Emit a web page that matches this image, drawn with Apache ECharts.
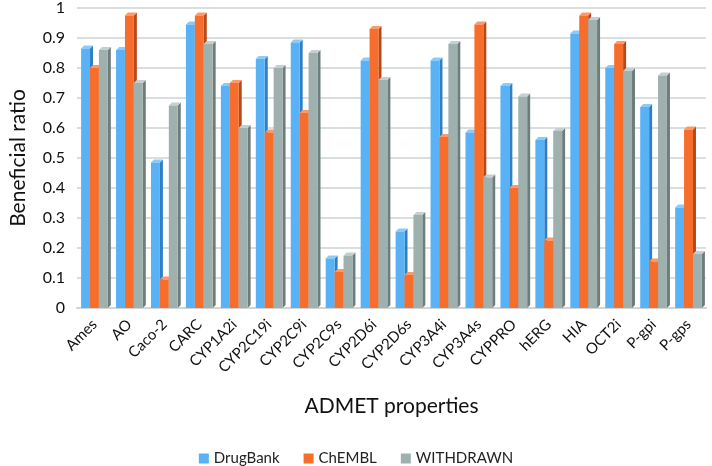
<!DOCTYPE html>
<html><head><meta charset="utf-8">
<script src="https://cdn.jsdelivr.net/npm/echarts@6/dist/echarts.min.js"></script>
<style>html,body{margin:0;padding:0;background:#fff}#c{width:712px;height:466px}</style>
</head><body><div id="c"></div>
<script>
const categories = ['Ames','AO','Caco-2','CARC','CYP1A2i','CYP2C19i','CYP2C9i','CYP2C9s','CYP2D6i','CYP2D6s','CYP3A4i','CYP3A4s','CYPPRO','hERG','HIA','OCT2i','P-gpi','P-gps'];
const drugBank  = [0.865,0.86,0.485,0.945,0.74,0.83,0.885,0.165,0.825,0.255,0.825,0.585,0.74,0.56,0.915,0.80,0.67,0.335];
const chembl    = [0.80,0.975,0.095,0.975,0.75,0.585,0.65,0.12,0.93,0.11,0.57,0.945,0.40,0.225,0.975,0.88,0.155,0.595];
const withdrawn = [0.86,0.75,0.675,0.88,0.60,0.80,0.85,0.175,0.76,0.31,0.88,0.435,0.705,0.59,0.96,0.79,0.775,0.18];
const seriesNames = ['DrugBank','ChEMBL','WITHDRAWN'];
const yTicks = [0,0.1,0.2,0.3,0.4,0.5,0.6,0.7,0.8,0.9,1];

const palettes = [
  {front:'#59b2f5', side:'#2f7fc4', top:'#8ccbf8'},
  {front:'#f66d2c', side:'#b8481a', top:'#f99a6c'},
  {front:'#9fb1af', side:'#6c7d7c', top:'#c4d0cf'}
];
const FONT = 'Lato';

function makeRender(si){
  return function(params, api){
    const idx = api.value(0), v = api.value(1);
    const base = api.coord([idx, 0]);
    const top = api.coord([idx, v]);
    const band = api.size([1,0])[0];
    const w = band*0.255;
    const d = 3;
    const x0 = base[0] - 1.5*w + si*w;
    const yt = top[1], yb = base[1];
    const p = palettes[si];
    return {type:'group', children:[
      {type:'polygon', shape:{points:[[x0+w,yt],[x0+w+d,yt-d],[x0+w+d,yb-d],[x0+w,yb]]}, style:{fill:p.side}},
      {type:'polygon', shape:{points:[[x0,yt],[x0+d,yt-d],[x0+w+d,yt-d],[x0+w,yt]]}, style:{fill:p.top}},
      {type:'rect', shape:{x:x0, y:yt, width:w, height:yb-yt}, style:{fill:p.front}}
    ]};
  };
}
const dataSets = [drugBank, chembl, withdrawn];
const series = dataSets.map((arr, si) => ({
  name: seriesNames[si],
  type: 'custom',
  renderItem: makeRender(si),
  itemStyle: {color: palettes[si].front},
  encode: {x:0, y:1},
  data: arr.map((v,i)=>[i,v]),
  z: 2
}));

const chart = echarts.init(document.getElementById('c'), null, {renderer:'canvas'});
chart.setOption({
  animation:false,
  textStyle:{fontFamily:FONT},
  grid:{left:69, right:6, top:7, bottom:158, containLabel:false},
  legend:{
    data:seriesNames, top:446, left:'center', icon:'rect', itemWidth:10, itemHeight:10, itemGap:24,
    textStyle:{fontFamily:FONT, fontSize:15, color:'#222'}
  },
  xAxis:{
    type:'category', data:categories,
    name:'ADMET properties', nameLocation:'middle', nameGap:88,
    nameTextStyle:{fontFamily:FONT, fontSize:21, color:'#111'},
    axisLine:{show:true, lineStyle:{color:'#d4d4d4', width:2}},
    axisTick:{show:false},
    axisLabel:{interval:0, rotate:45, fontFamily:FONT, fontSize:15, color:'#111', margin:14}
  },
  yAxis:{
    type:'value', min:0, max:1, interval:0.1,
    name:'Beneficial ratio', nameLocation:'middle', nameGap:48,
    nameTextStyle:{fontFamily:FONT, fontSize:21, color:'#111'},
    axisLine:{show:false}, axisTick:{show:false},
    axisLabel:{fontFamily:FONT, fontSize:16, color:'#111', margin:12,
      formatter: v => { const t = yTicks.find(x=>Math.abs(x-v)<1e-9); return t===undefined? '' : String(t); }},
    splitLine:{lineStyle:{color:'#d9dede', width:2}}
  },
  series: series
});
</script></body></html>
